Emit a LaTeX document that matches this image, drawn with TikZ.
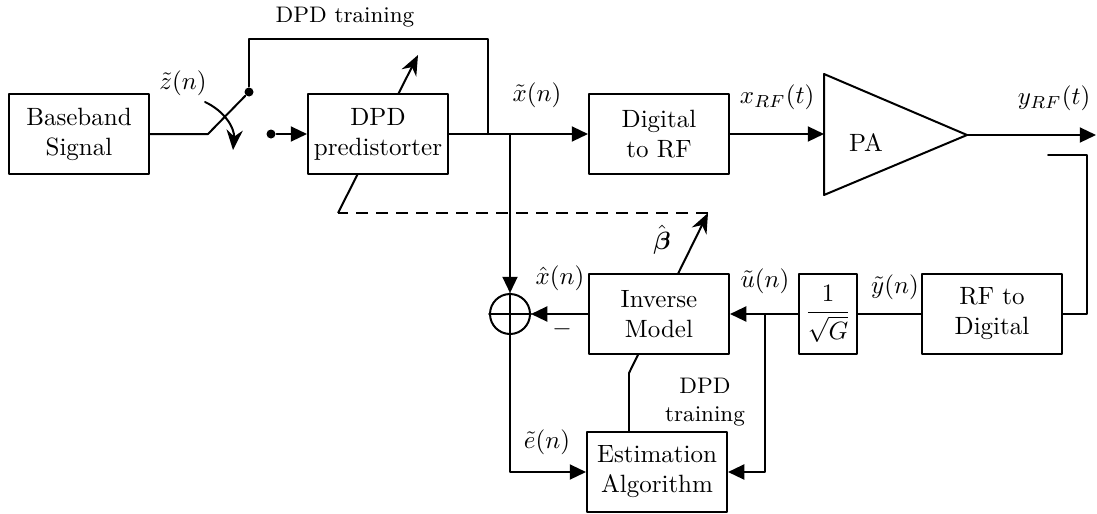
\documentclass[tikz,border=0pt]{standalone}
\usepackage{amsmath}
\usetikzlibrary{arrows.meta,backgrounds}
\begin{document}
\begin{tikzpicture}[x=0.4pt,y=-0.4pt,line cap=round,line join=round,thick,
	>={Triangle[length=6.5pt,width=6pt]},
	block/.style={draw,fill=white,minimum width=56pt,minimum height=32pt,align=center,inner sep=2pt},
	gainbox/.style={draw,fill=white,minimum width=23pt,minimum height=32pt,inner sep=1pt},
	dot/.style={circle,fill,inner sep=0pt,minimum size=3.6pt},
	adj/.style={thick,-{Stealth[length=8pt,width=6.5pt]}}]
	\useasboundingbox (0,0) rectangle (1097,513);
	% blocks
	\node[block] (base) at (79,134) {Baseband\\Signal};
	\node[block] (dpd) at (378,134) {DPD\\predistorter};
	\node[block] (d2rf) at (659,134) {Digital\\to RF};
	\node[block] (inv) at (659,314) {Inverse\\Model};
	\node[block] (est) at (657,472) {Estimation\\Algorithm};
	\node[gainbox] (gain) at (828,314) {$\dfrac{1}{\sqrt{G}}$};
	\node[block] (rf2d) at (992,314) {RF to\\Digital};
	\node[circle,draw,minimum size=16pt,inner sep=0pt] (sum) at (510,314) {};
	\draw (sum.north)--(sum.south) (sum.west)--(sum.east);
	% PA
	\draw (824,74)--(967,135)--(824,195)--cycle;
	\node (pa) at (866,143) {PA};
	\coordinate (pa-in) at (824,134);
	\coordinate (pa-out) at (967,135);
	% labels
	\node (lz) at (183,83) {$\tilde{z}(n)$};
	\node (lx) at (537,95) {$\tilde{x}(n)$};
	\node (lxrf) at (777,97) {$x_{RF}(t)$};
	\node (lyrf) at (1054,98) {$y_{RF}(t)$};
	\node (ly) at (895,287) {$\tilde{y}(n)$};
	\node (lu) at (765,281) {$\tilde{u}(n)$};
	\node (lxh) at (560,278) {$\hat{x}(n)$};
	\node (lminus) at (562,329) {$-$};
	\node (lbeta) at (662,240) {$\hat{\boldsymbol{\beta}}$};
	\node (le) at (547,442) {$\tilde{e}(n)$};
	\node[font=\small,align=center] (ltrain) at (705,402) {DPD\\training};
	\node[font=\small] (ltop) at (345,17) {DPD training};
	% switch
	\coordinate (pivot) at (208,134);
	\node[dot] (c1) at (249,92) {};
	\node[dot] (c2) at (271,134) {};
	\coordinate (sw-a) at (205,102);
	\coordinate (sw-b) at (233,150);
	\draw (base.east)--(pivot)--(c1);
	\draw[adj] (sw-a) to[bend left=35] (sw-b);
	\draw[->] (c2)--(dpd.west);
	% forward path
	\coordinate (tap) at (488,134);
	\coordinate (branch) at (510,134);
	\coordinate (out) at (1096,135);
	\draw (c1)--++(0,-53)-|(tap);
	\draw[->] (dpd.east)--(d2rf.west);
	\draw[->] (branch)--(sum.north);
	\draw[->] (d2rf.east)--(pa-in);
	\draw[->] (pa-out)--(out);
	% feedback path
	\coordinate (fb) at (1048,155);
	\coordinate (ubranch) at (765,314);
	\draw (fb)--++(39,0)|-(rf2d.east);
	\draw (rf2d.west)--(gain.east);
	\draw[->] (gain.west)--(inv.east);
	\draw[->] (ubranch)|-(est.east);
	\draw[->] (inv.west)--(sum.east);
	\draw[->] (sum.south)|-(est.west);
	% coefficient update
	\coordinate (kink) at (629,373);
	\coordinate (btip) at (708,213);
	\coordinate (dend) at (338,213);
	\coordinate (ptip) at (418,55);
	\begin{pgfonlayer}{background}
		\draw[adj] (kink)--(btip);
		\draw[adj] (dend)--(ptip);
	\end{pgfonlayer}
	\draw[thick] (est.north-|kink)--(kink);
	\draw[thick,dash pattern=on 5pt off 3pt,line cap=butt] (btip)--(dend);
\end{tikzpicture}
\end{document}
